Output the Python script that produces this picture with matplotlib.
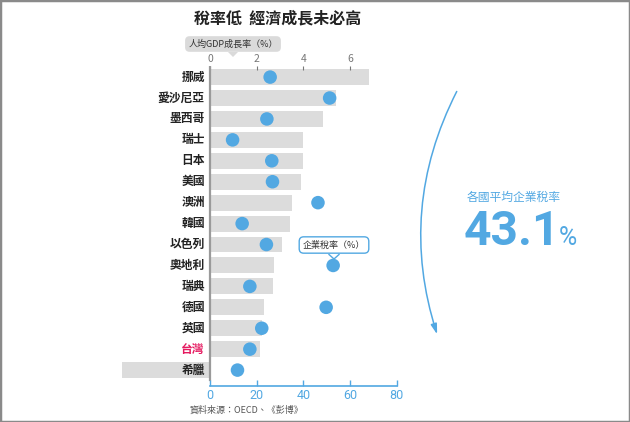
import matplotlib
matplotlib.use("Agg")
import matplotlib.pyplot as plt
import numpy as np
from matplotlib.patches import Rectangle, FancyArrowPatch, Polygon

plt.rcParams["font.family"] = ["Noto Sans CJK TC", "DejaVu Sans"]

# data
countries = ["挪威", "愛沙尼亞", "墨西哥", "瑞士", "日本", "美國", "澳洲", "韓國",
             "以色列", "奧地利", "瑞典", "德國", "英國", "台灣", "希臘"]
gdp_growth = [6.8, 5.4, 4.85, 4.0, 4.0, 3.9, 3.5, 3.45, 3.1, 2.75, 2.7, 2.3, 2.25, 2.15, -3.75]
tax_rate = [25.8, 51.3, 24.4, 9.7, 26.5, 26.8, 46.3, 13.8, 24.2, 52.8, 17.1, 49.8, 22.2, 17.1, 11.8]
gdp_ticks = [0, 2, 4, 6]
tax_ticks = [0, 20, 40, 60, 80]
avg_tax = "43.1"

BLUE = "#52a8e2"
BAR = "#dcdcdc"
W, H = 630, 422

fig = plt.figure(figsize=(6.3, 4.22), dpi=100)


def fx(px):
    return px / W


def fy(py):
    return 1 - py / H


ax = fig.add_axes([fx(121.3), fy(386), 275.3 / W, 320 / H])
rows = np.arange(len(countries))
ax.barh(rows, gdp_growth, height=0.76, color=BAR, zorder=1)
ax.set_xlim(-3.8, 8.0)
ax.set_ylim(14.76, -0.53)
ax.axvline(0, ymin=0.02, ymax=1.0, color="#9a9a9a", lw=1.6, zorder=2)
ax.set_yticks([])
for sp in ax.spines.values():
    sp.set_visible(False)

for i, name in enumerate(countries):
    ax.text(-0.22, i, name, ha="right", va="center", fontsize=8.5, fontweight="bold",
            color="#e5195f" if name == "台灣" else "#222222", zorder=3)

# tax-rate axis on the bottom (twiny moves the original ticks, so set both after)
ax2 = ax.twiny()
ax2.scatter(tax_rate, rows, s=95, color=BLUE, edgecolors="none", zorder=4)
ax2.set_xlim(-38, 80)

ax.xaxis.tick_top()
ax.set_xticks(gdp_ticks)
ax.tick_params(axis="x", direction="in", length=3, width=0.8, colors="#777777",
               labelsize=7.5, pad=1.5)

ax2.xaxis.tick_bottom()
ax2.set_xticks(tax_ticks)
ax2.tick_params(axis="x", direction="in", length=4, width=1, colors=BLUE,
                labelsize=9, pad=2.5)
for sp in ("top", "left", "right"):
    ax2.spines[sp].set_visible(False)
ax2.spines["bottom"].set_color(BLUE)
ax2.spines["bottom"].set_linewidth(1.2)
ax2.spines["bottom"].set_bounds(0, 80)
for lab in ax2.get_xticklabels():
    lab.set_fontfamily("Roboto")

# title and notes
fig.text(fx(278), fy(18), "稅率低  經濟成長未必高", ha="center", va="center",
         fontsize=11.5, fontweight="bold", color="#222222")
fig.text(fx(233), fy(44), "人均GDP成長率（%）", ha="center", va="center", fontsize=6.5,
         color="#333333",
         bbox=dict(boxstyle="round,pad=0.35,rounding_size=0.5", fc="#dadada", ec="none"))
fig.patches.append(Polygon([[fx(228), fy(52)], [fx(238), fy(52)], [fx(233), fy(57)]],
                           closed=True, fc="#dadada", ec="none",
                           transform=fig.transFigure))
fig.text(fx(334), fy(245), "企業稅率（%）", ha="center", va="center", fontsize=6.5,
         color="#333333",
         bbox=dict(boxstyle="round,pad=0.4,rounding_size=0.5", fc="white", ec=BLUE, lw=1))
fig.patches.append(Polygon([[fx(329), fy(254.5)], [fx(339), fy(254.5)], [fx(334), fy(259)]],
                           closed=True, fc="white", ec="none", zorder=5,
                           transform=fig.transFigure))
fig.lines.append(plt.Line2D([fx(329), fx(334), fx(339)], [fy(254.5), fy(259), fy(254.5)],
                            color=BLUE, lw=1, transform=fig.transFigure, zorder=6))
fig.text(fx(190), fy(410), "資料來源：OECD、《彭博》", ha="left", va="center",
         fontsize=6.5, color="#555555")

# right-side annotation
arc = FancyArrowPatch((fx(458), fy(89)), (fx(438), fy(337)), transform=fig.transFigure,
                      connectionstyle="arc3,rad=0.21",
                      arrowstyle="-|>,head_length=0.6,head_width=0.18",
                      mutation_scale=10, color=BLUE, lw=1.1)
fig.patches.append(arc)
fig.text(fx(467), fy(197), "各國平均企業稅率", ha="left", va="center", fontsize=8.5,
         color=BLUE)
fig.text(fx(464), fy(245), avg_tax, ha="left", va="baseline", fontsize=34.5,
         fontweight="bold", color=BLUE, family="Roboto")
fig.text(fx(559), fy(245), "%", ha="left", va="baseline", fontsize=18,
         color=BLUE, family="Roboto")

# frame
fig.patches.append(Rectangle((0, 0), 1, 1, transform=fig.transFigure, fill=False,
                             ec="#8a8a8a", lw=2.5))

fig.savefig("out.png", dpi=100)
